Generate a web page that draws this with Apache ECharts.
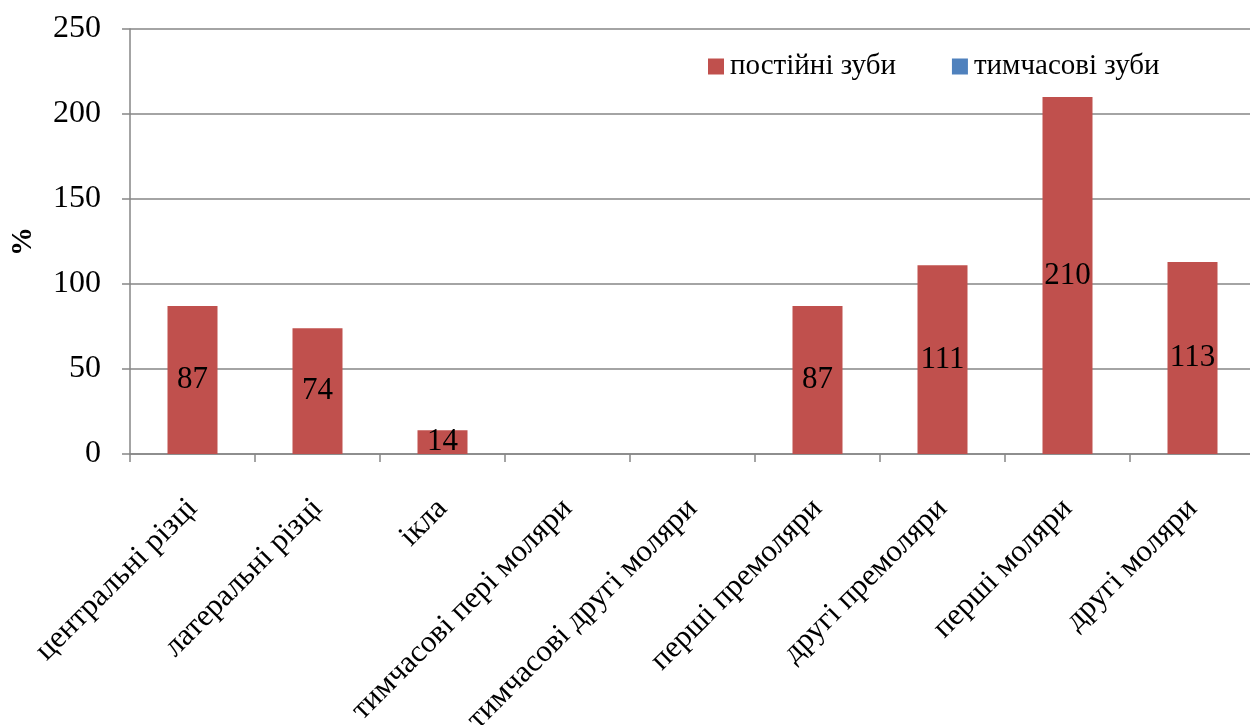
<!DOCTYPE html>
<html>
<head>
<meta charset="utf-8">
<script src="https://cdn.jsdelivr.net/npm/echarts@6/dist/echarts.min.js"></script>
<style>
  html, body { margin: 0; padding: 0; background: #fff; }
  #chart { width: 1250px; height: 725px; }
</style>
</head>
<body>
<div id="chart"></div>
<script>
// Tooth groups on the category axis
const categories = [
  'центральні різці',
  'латеральні різці',
  'ікла',
  'тимчасові пері моляри',
  'тимчасові другі моляри',
  'перші премоляри',
  'другі премоляри',
  'перші моляри',
  'другі моляри'
];
// Percent values per group
const permanentTeeth = [87, 74, 14, null, null, 87, 111, 210, 113];
const temporaryTeeth = [null, null, null, null, null, null, null, null, null];
const seriesNames = ['постійні зуби', 'тимчасові зуби'];
const yTicks = { min: 0, max: 250, interval: 50 };

const serif = '"Liberation Serif", "Times New Roman", serif';
const gray = '#868686';

const chart = echarts.init(document.getElementById('chart'), null, { renderer: 'canvas' });
chart.setOption({
  animation: false,
  backgroundColor: '#fff',
  textStyle: { fontFamily: serif, color: '#000' },
  legend: {
    left: 703,
    top: 47,
    itemWidth: 16,
    itemHeight: 16,
    itemGap: 56,
    icon: 'rect',
    textStyle: { fontFamily: serif, fontSize: 29, color: '#000', padding: [0, 0, 0, 1] },
    data: seriesNames
  },
  grid: {
    left: 130, right: -5, top: 29, bottom: 271,
    containLabel: false,
    outerBoundsMode: 'none'
  },
  xAxis: {
    type: 'category',
    data: categories,
    axisLine: { lineStyle: { color: gray, width: 1.5 } },
    axisTick: { show: true, length: 8, alignWithLabel: false, lineStyle: { color: gray, width: 1.5 } },
    axisLabel: {
      interval: 0,
      rotate: 45,
      margin: 50,
      fontFamily: serif,
      fontSize: 31,
      color: '#000'
    }
  },
  yAxis: {
    type: 'value',
    min: yTicks.min,
    max: yTicks.max,
    interval: yTicks.interval,
    name: '%',
    nameLocation: 'middle',
    nameGap: 92,
    nameTextStyle: { fontFamily: serif, fontSize: 29, fontWeight: 'bold', color: '#000' },
    axisLine: { show: true, lineStyle: { color: gray, width: 1.5 } },
    axisTick: { show: true, length: 8, lineStyle: { color: gray, width: 1.5 } },
    axisLabel: { margin: 29, fontFamily: serif, fontSize: 32, color: '#000' },
    splitLine: { show: true, lineStyle: { color: gray, width: 1.5 } }
  },
  series: [
    {
      name: seriesNames[0],
      type: 'bar',
      stack: 'teeth',
      barWidth: '40%',
      data: permanentTeeth,
      itemStyle: { color: '#C0504D' },
      label: {
        show: true,
        position: 'inside',
        fontFamily: serif,
        fontSize: 31,
        color: '#000'
      }
    },
    {
      name: seriesNames[1],
      type: 'bar',
      stack: 'teeth',
      barWidth: '40%',
      data: temporaryTeeth,
      itemStyle: { color: '#4F81BD' },
      label: { show: true, position: 'inside', fontFamily: serif, fontSize: 31, color: '#000' }
    }
  ]
});
</script>
</body>
</html>
